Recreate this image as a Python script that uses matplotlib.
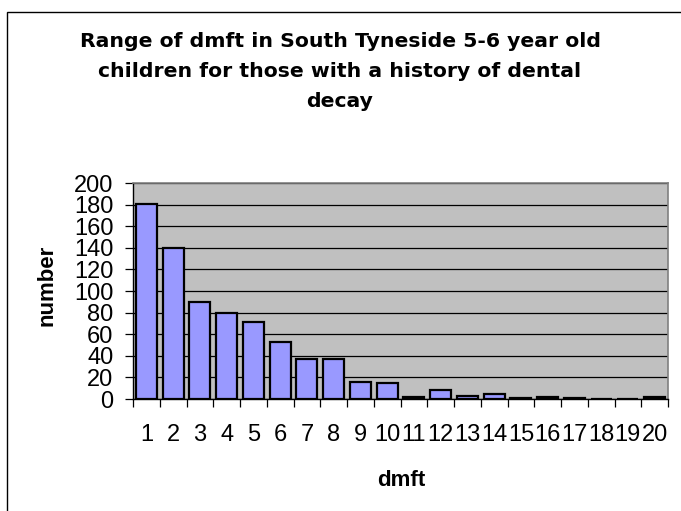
import matplotlib
matplotlib.use("Agg")
import matplotlib.pyplot as plt
from matplotlib.patches import Rectangle
import numpy as np

plt.rcParams['font.family'] = ['Liberation Sans', 'DejaVu Sans']

dmft = list(range(1, 21))
counts = [181, 140, 90, 80, 71, 53, 37, 37, 16, 15, 2, 8, 3, 5, 1, 2, 1, 0, 0, 2]
y_ticks = list(range(0, 201, 20))

title_lines = ["Range of dmft in South Tyneside 5-6 year old",
               "children for those with a history of dental",
               "decay"]

fig = plt.figure(figsize=(6.81, 5.11), dpi=100)
fig.patch.set_facecolor('white')

# chart area frame
fig.patches.append(Rectangle((7 / 681, -0.1), 1.2, 1 - 12 / 511 + 0.1,
                             transform=fig.transFigure, fill=False,
                             edgecolor='black', linewidth=1.0))

ax = fig.add_axes([133 / 681, 1 - 399 / 511, (668 - 133) / 681, (399 - 183) / 511])
ax.set_facecolor('#C0C0C0')

ax.bar(dmft, counts, width=0.79, color='#9999FF', edgecolor='black',
       linewidth=1.6, zorder=3)

ax.set_xlim(0.5, 20.5)
ax.set_ylim(0, 200)
ax.set_yticks(y_ticks)
ax.yaxis.grid(True, color='black', linewidth=0.9, zorder=1)
ax.set_axisbelow(True)

# category boundaries carry the tick marks, labels sit at the centres
ax.set_xticks(np.arange(0.5, 21, 1.0))
ax.set_xticklabels([])
ax.set_xticks(dmft, minor=True)
ax.set_xticklabels([str(v) for v in dmft], minor=True)
ax.tick_params(axis='x', which='major', direction='out', length=6, width=0.9, color='black')
ax.tick_params(axis='x', which='minor', length=0, pad=18, labelsize=17)
ax.tick_params(axis='y', direction='out', length=6, width=0.9, pad=8, labelsize=17)

for side in ('top', 'right'):
    ax.spines[side].set_color('#808080')
    ax.spines[side].set_linewidth(1.2)
for side in ('left', 'bottom'):
    ax.spines[side].set_color('black')
    ax.spines[side].set_linewidth(1.0)

# three title lines, placed by baseline
for line, base in zip(title_lines, (47, 77, 107)):
    fig.text(340 / 681, 1 - base / 511, line, ha='center', va='baseline',
             fontsize=14.7, fontweight='bold', family=['DejaVu Sans'])

fig.text(401 / 681, 1 - 480 / 511, 'dmft', ha='center', va='center',
         fontsize=16, fontweight='bold')
fig.text(47 / 681, 1 - 285 / 511, 'number', ha='center', va='center',
         rotation=90, fontsize=16, fontweight='bold')

fig.savefig('out.png', dpi=100)
